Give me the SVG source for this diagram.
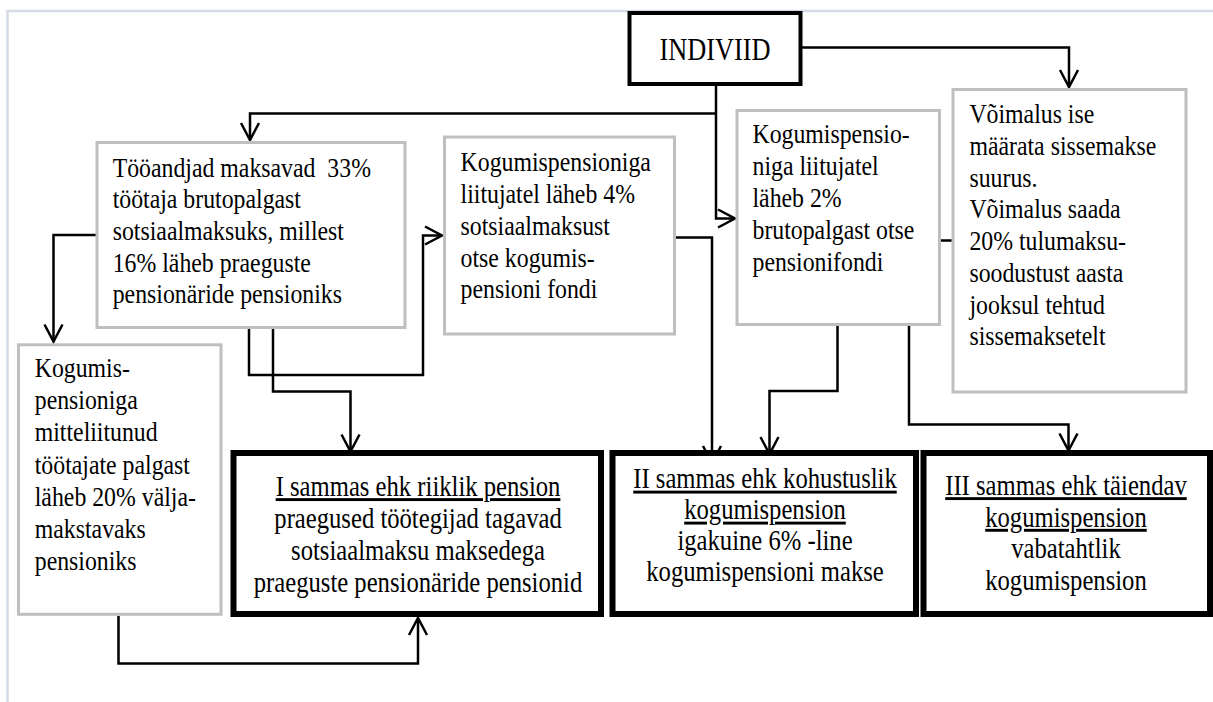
<svg xmlns="http://www.w3.org/2000/svg" width="1213" height="702" viewBox="0 0 1213 702">
<style>
.page{stroke:#d5dbe6;stroke-width:2.5;fill:none}
.gbox{fill:#fff;stroke:#bfbfbf;stroke-width:3}
.kbox{fill:#fff;stroke:#000;stroke-width:6}
.ibox{fill:#fff;stroke:#000;stroke-width:4}
.t{font-family:"Liberation Serif","Times New Roman",serif;font-size:28px;fill:#000;white-space:pre}
.c{font-size:29px;text-anchor:middle}
.u{text-decoration:underline}
.con{fill:none;stroke:#000;stroke-width:2.5;marker-end:url(#arr)}
</style>
<defs>
<marker id="arr" markerUnits="userSpaceOnUse" markerWidth="24" markerHeight="24" viewBox="-20 -12 24 24" refX="0" refY="0" orient="auto">
<path d="M-17,-9 L0,0 L-17,9" fill="none" stroke="#000" stroke-width="2.5"/>
</marker>
</defs>
<path class="page" d="M7.5,702 V11 H1213"/>
<g id="connectors">
<path class="con" d="M716,84 V218.5 H735"/>
<path class="con" d="M716,113.5 H250 V140"/>
<path class="con" d="M801,47.5 H1069 V87"/>
<path class="con" d="M96,235 H53.5 V341.5"/>
<path class="con" d="M249,329 V375 H423 V235.5 H442"/>
<path class="con" d="M273,329 V391.5 H350.5 V451.5"/>
<path class="con" d="M676,237.5 H712 V463"/>
<path class="con" d="M837.5,326 V391 H769.5 V454"/>
<path class="con" d="M952,240.5 H909 V424.5 H1068.5 V450.5"/>
<path class="con" d="M118.5,616 V663.5 H418 V618"/>
</g>
<g id="individ">
<rect class="ibox" x="629.5" y="13" width="171" height="71"/>
<text class="t" transform="scale(0.85,1)" x="841.2" y="60" style="font-size:31px" text-anchor="middle">INDIVIID</text>
</g>
<g id="tooandjad">
<rect class="gbox" x="97" y="142.5" width="308" height="185"/>
<text class="t" transform="scale(0.85,1)"><tspan x="132.6" y="176.7">Tööandjad maksavad  33%</tspan><tspan x="132.6" y="208.4">töötaja brutopalgast</tspan><tspan x="132.6" y="240.1">sotsiaalmaksuks, millest</tspan><tspan x="132.6" y="271.8">16% läheb praeguste</tspan><tspan x="132.6" y="303.5">pensionäride pensioniks</tspan></text>
</g>
<g id="kogumis4">
<rect class="gbox" x="444.5" y="137" width="230" height="197"/>
<text class="t" transform="scale(0.85,1)"><tspan x="541.9" y="171.5">Kogumispensioniga</tspan><tspan x="541.9" y="203.2">liitujatel läheb 4%</tspan><tspan x="541.9" y="234.9">sotsiaalmaksust</tspan><tspan x="541.9" y="266.6">otse kogumis-</tspan><tspan x="541.9" y="298.3">pensioni fondi</tspan></text>
</g>
<g id="kogumis2">
<rect class="gbox" x="737" y="110.5" width="202.5" height="214"/>
<text class="t" transform="scale(0.85,1)"><tspan x="885.3" y="143.5">Kogumispensio-</tspan><tspan x="885.3" y="175.5">niga liitujatel</tspan><tspan x="885.3" y="207.5">läheb 2%</tspan><tspan x="885.3" y="239.5">brutopalgast otse</tspan><tspan x="885.3" y="271.5">pensionifondi</tspan></text>
</g>
<g id="voimalus">
<rect class="gbox" x="953" y="89.5" width="233" height="302.5"/>
<text class="t" transform="scale(0.85,1)"><tspan x="1140.5" y="123.3">Võimalus ise</tspan><tspan x="1140.5" y="155">määrata sissemakse</tspan><tspan x="1140.5" y="186.8">suurus.</tspan><tspan x="1140.5" y="218.5">Võimalus saada</tspan><tspan x="1140.5" y="250.3">20% tulumaksu-</tspan><tspan x="1140.5" y="282">soodustust aasta</tspan><tspan x="1140.5" y="313.8">jooksul tehtud</tspan><tspan x="1140.5" y="345.5">sissemaksetelt</tspan></text>
</g>
<g id="mitteliitunud">
<rect class="gbox" x="18.5" y="344.8" width="202.5" height="269.5"/>
<text class="t" transform="scale(0.85,1)"><tspan x="40.9" y="377">Kogumis-</tspan><tspan x="40.9" y="409.2">pensioniga</tspan><tspan x="40.9" y="441.4">mitteliitunud</tspan><tspan x="40.9" y="473.6">töötajate palgast</tspan><tspan x="40.9" y="505.8">läheb 20% välja-</tspan><tspan x="40.9" y="538">makstavaks</tspan><tspan x="40.9" y="570.2">pensioniks</tspan></text>
</g>
<g id="sammas1">
<rect class="kbox" x="233.5" y="453" width="367.5" height="161"/>
<text class="t c" transform="scale(0.85,1)"><tspan class="u" x="491.8" y="496">I sammas ehk riiklik pension</tspan><tspan x="491.8" y="528">praegused töötegijad tagavad</tspan><tspan x="491.8" y="560">sotsiaalmaksu maksedega</tspan><tspan x="491.8" y="592">praeguste pensionäride pensionid</tspan></text>
</g>
<g id="sammas2">
<rect class="kbox" x="612.5" y="453" width="303.5" height="161"/>
<text class="t c" transform="scale(0.85,1)"><tspan class="u" x="900" y="488.5">II sammas ehk kohustuslik</tspan><tspan class="u" x="900" y="519.5">kogumispension</tspan><tspan x="900" y="550.5">igakuine 6% -line</tspan><tspan x="900" y="581.5">kogumispensioni makse</tspan></text>
</g>
<g id="sammas3">
<rect class="kbox" x="923.5" y="453" width="286.5" height="161"/>
<text class="t c" transform="scale(0.85,1)"><tspan class="u" x="1254.1" y="495">III sammas ehk täiendav</tspan><tspan class="u" x="1254.1" y="526.7">kogumispension</tspan><tspan x="1254.1" y="558.4">vabatahtlik</tspan><tspan x="1254.1" y="590">kogumispension</tspan></text>
</g>
</svg>
